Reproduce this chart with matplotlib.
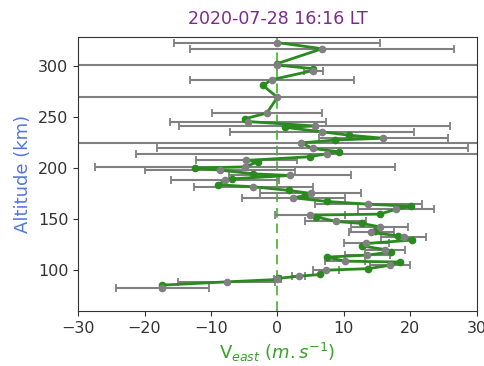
import numpy as np
import matplotlib
matplotlib.use('Agg')
import matplotlib.pyplot as plt

# zonal wind profile, 2020-07-28 16:16 LT
# grey points: altitude (km), V_east (m/s), error (m/s)
alt_grey = [83.0, 88.6, 90.9, 94.1, 100.0, 104.9, 108.8, 114.7, 120.2, 126.1,
            132.0, 136.9, 142.4, 147.6, 153.9, 159.5, 164.5, 170.8, 175.0, 181.5,
            188.0, 192.6, 197.8, 201.0, 207.3, 213.8, 219.0, 224.5, 229.0, 235.3,
            241.0, 245.3, 253.6, 269.0, 286.3, 295.2, 300.5, 316.5, 322.5]
v_grey = [-17.3, -7.6, 0.0, 3.2, 7.3, 17.0, 10.2, 13.5, 16.2, 13.4,
          19.0, 14.1, 15.4, 8.8, 4.9, 17.8, 13.7, 2.4, 5.0, -3.6,
          -7.9, 1.9, -8.6, -4.9, -4.7, 7.4, 5.3, 3.6, 15.9, 6.7,
          5.6, -4.4, -1.6, 0.0, -0.8, 5.4, 0.0, 6.7, 0.0]
err_grey = [7.0, 7.3, 0.5, 1.0, 2.0, 3.0, 3.0, 3.4, 3.0, 3.4,
            3.4, 3.4, 4.3, 4.6, 5.3, 5.7, 8.0, 7.8, 7.6, 9.0,
            8.1, 9.2, 11.3, 22.6, 7.6, 28.7, 23.4, 60.0, 9.7, 13.8,
            20.4, 11.7, 8.3, 60.0, 12.3, 1.4, 60.0, 19.9, 15.5]

# green points: altitude (km), V_east (m/s)
alt_green = [85.4, 92.0, 95.8, 101.5, 108.0, 112.8, 117.8, 123.7, 129.4, 133.6,
             138.5, 145.7, 152.2, 154.8, 162.5, 167.2, 173.1, 178.0, 183.5, 189.3,
             194.2, 199.8, 206.0, 210.9, 215.8, 227.2, 232.0, 239.6, 248.0, 280.7,
             297.0, 302.0]
v_green = [-17.3, 0.1, 6.4, 13.7, 18.4, 7.4, 17.1, 12.7, 20.2, 18.2,
           14.7, 12.7, 5.8, 15.4, 20.1, 7.4, 4.2, 1.7, -8.9, -6.9,
           -3.6, -12.4, -2.9, 4.9, 9.2, 8.7, 10.7, 1.2, -4.9, -2.2,
           5.3, 0.0]

# merged profile for the connecting line
alt_all = np.array(alt_grey + alt_green)
v_all = np.array(v_grey + v_green)
order = np.argsort(alt_all)

fig = plt.figure(figsize=(4.85, 3.66), dpi=100)
ax = fig.add_axes([0.161, 0.150, 0.822, 0.749])

ax.axvline(0, color='#5cc043', ls=(0, (5, 3)), lw=1.4, zorder=1)
ax.errorbar(v_grey, alt_grey, xerr=err_grey, fmt='none', ecolor='grey',
            elinewidth=1.5, capsize=3, capthick=1.3, zorder=2)
ax.plot(v_all[order], alt_all[order], '-', color='#2a8a1f', lw=2, zorder=3)
ax.plot(v_green, alt_green, 'o', color='#2a8a1f', ms=4.5, zorder=4)
ax.plot(v_grey, alt_grey, 'o', color='grey', ms=4.5, zorder=5)

ax.set_xlim(-30, 30)
ax.set_ylim(60, 328)
ax.set_xticks([-30, -20, -10, 0, 10, 20, 30])
ax.set_yticks([100, 150, 200, 250, 300])
ax.tick_params(labelsize=11.5, colors='#333333')
for sp in ax.spines.values():
    sp.set_color('#333333')

ax.set_title('2020-07-28 16:16 LT', color='#7b2a8a', fontsize=12.5, pad=9)
ax.set_ylabel('Altitude (km)', color='#5577dd', fontsize=13)
ax.set_xlabel(r'V$_{east}$ $(m.s^{-1})$', color='#3aa02c', fontsize=13)

fig.savefig('out.png', dpi=100)
